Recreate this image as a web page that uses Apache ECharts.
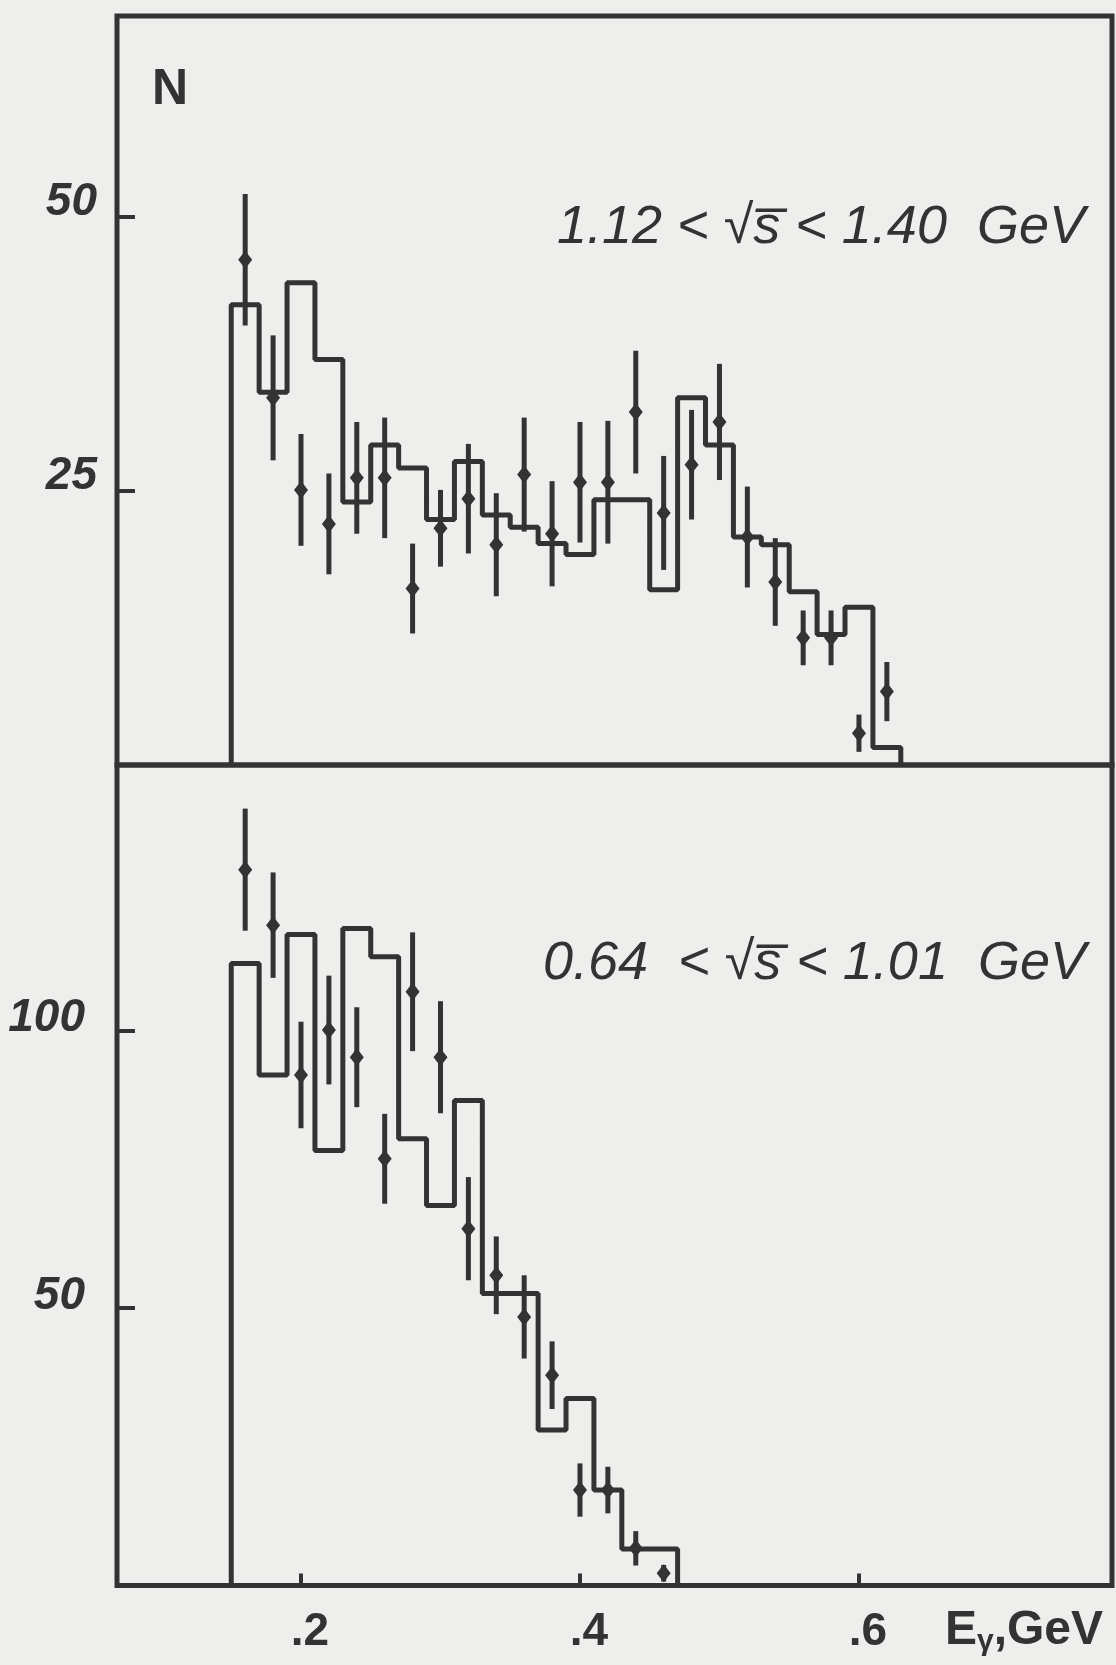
<!DOCTYPE html>
<html>
<head>
<meta charset="utf-8">
<script src="https://cdn.jsdelivr.net/npm/echarts@6/dist/echarts.min.js"></script>
<style>
html,body{margin:0;padding:0;background:#eeeeec;}
#chart{width:1116px;height:1665px;}
</style>
</head>
<body>
<div id="chart"></div>
<script>
// ---------- data ----------
const topEdges = [0.15,0.17,0.19,0.21,0.23,0.25,0.27,0.29,0.31,0.33,0.35,0.37,0.39,0.41,0.43,0.45,0.47,0.49,0.51,0.53,0.55,0.57,0.59,0.61,0.63];
const topHist  = [42,34,44,37,24,29.2,27.1,22.4,27.7,22.8,21.7,20.2,19.2,24.2,24.2,16,33.5,29.2,20.8,20.1,15.8,11.9,14.4,1.6];
const topPtX   = [0.16,0.18,0.20,0.22,0.24,0.26,0.28,0.30,0.32,0.34,0.36,0.38,0.40,0.42,0.44,0.46,0.48,0.50,0.52,0.54,0.56,0.58,0.60,0.62];
const topPtY   = [46.1,33.5,25.1,22.0,26.2,26.2,16.1,21.6,24.3,20.1,26.5,21.1,25.8,25.8,32.2,23.0,27.4,31.3,20.8,16.7,11.6,11.6,2.9,6.7];
const topPtErr = [6.0,5.7,5.1,4.6,5.1,5.5,4.1,3.5,5.0,4.7,5.2,4.8,5.5,5.6,5.6,5.2,5.0,5.3,4.6,4.0,2.5,2.5,1.7,2.7];

const botEdges = [0.15,0.17,0.19,0.21,0.23,0.25,0.27,0.29,0.31,0.33,0.35,0.37,0.39,0.41,0.43,0.45,0.47];
const botHist  = [112.1,92.0,117.3,78.4,118.4,113.3,80.5,68.5,87.4,52.6,52.6,28.0,33.7,17.2,6.6,6.6];
const botPtX   = [0.16,0.18,0.20,0.22,0.24,0.26,0.28,0.30,0.32,0.34,0.36,0.38,0.40,0.42,0.44,0.46];
const botPtY   = [129.0,119.0,92.0,100.1,95.2,76.9,107.0,95.2,64.3,55.9,48.4,37.9,17.2,17.2,6.7,2.2];
const botPtErr = [11.0,9.5,9.6,9.8,9.0,8.1,10.7,10.1,9.3,7.0,7.5,6.1,4.8,4.2,3.1,1.5];

const xTickValues = [0.2,0.4,0.6];
const xTickLabels = ['.2','.4','.6'];
const topYTicks = [25,50];
const botYTicks = [50,100];
const topLabel = '1.12 < \u221As\u0305 < 1.40  GeV';
const botLabel = '0.64  < \u221As\u0305 < 1.01  GeV';

// ---------- helpers ----------
const INK = '#333333';
function histData(edges, vals){
  const d = [[edges[0],0]];
  for (let i=0;i<vals.length;i++) d.push([edges[i], vals[i]]);
  d.push([edges[edges.length-1], 0]);
  return d;
}
function ptData(xs, ys, es){ return xs.map((x,i)=>[x, ys[i], es[i]]); }
function renderErr(params, api){
  const x = api.value(0), y = api.value(1), e = api.value(2);
  const c = api.coord([x,y]);
  const t = api.coord([x,y+e]);
  const b = api.coord([x,Math.max(0,y-e)]);
  return {type:'group', children:[
    {type:'line', shape:{x1:c[0],y1:t[1],x2:c[0],y2:b[1]}, style:{stroke:INK,lineWidth:5}},
    {type:'polygon', shape:{points:[[c[0],c[1]-9],[c[0]+7,c[1]],[c[0],c[1]+9],[c[0]-7,c[1]]]}, style:{fill:INK}}
  ]};
}

const xMin = 0.0681, xMax = 0.7814;
const topYMax = 68.34, botYMax = 147.86;

const chart = echarts.init(document.getElementById('chart'), null, {renderer:'canvas'});
const yLabelStyle = {fontSize:46, fontWeight:'bold', fontStyle:'italic', fontFamily:'Liberation Sans', color:INK};

chart.setOption({
  backgroundColor:'#eeeeec',
  animation:false,
  title:[
    {text:'N', left:147, top:60, textStyle:{fontSize:50, fontWeight:'bold', fontFamily:'Liberation Sans', color:INK}},
    {text:topLabel, left:552, top:196, textStyle:{fontSize:54, fontStyle:'italic', fontWeight:'normal', fontFamily:'Liberation Sans', color:INK}},
    {text:botLabel, left:538, top:932, textStyle:{fontSize:54, fontStyle:'italic', fontWeight:'normal', fontFamily:'Liberation Sans', color:INK}},
    {text:'{e|E}{g|\u03B3}{e|,GeV}', left:940, top:1600, textStyle:{rich:{
      e:{fontSize:48, fontWeight:'bold', fontFamily:'Liberation Sans', color:INK, lineHeight:52},
      g:{fontSize:30, fontWeight:'bold', fontFamily:'Liberation Sans', color:INK, lineHeight:22, verticalAlign:'bottom'}
    }}}
  ],
  grid:[
    {left:117, right:4, top:16, height:749, show:true, borderColor:INK, borderWidth:5, backgroundColor:'transparent'},
    {left:117, right:4, top:765, height:820.5, show:true, borderColor:INK, borderWidth:5, backgroundColor:'transparent'}
  ],
  xAxis:[
    {type:'value', gridIndex:0, min:xMin, max:xMax, axisLine:{show:false}, axisTick:{show:false}, axisLabel:{show:false}, splitLine:{show:false}},
    {type:'value', gridIndex:1, min:xMin, max:xMax, axisLine:{show:false}, splitLine:{show:false},
     axisTick:{show:true, inside:true, length:12, lineStyle:{color:INK,width:4}, customValues:xTickValues},
     axisLabel:{show:true, customValues:xTickValues, margin:24, padding:[0,0,0,18],
       formatter:(v)=>{const i=xTickValues.findIndex(t=>Math.abs(t-v)<1e-6); return i>=0?xTickLabels[i]:'';},
       fontSize:46, fontWeight:'bold', fontFamily:'Liberation Sans', color:INK}}
  ],
  yAxis:[
    {type:'value', gridIndex:0, min:0, max:topYMax, axisLine:{show:false}, splitLine:{show:false},
     axisTick:{show:true, inside:true, length:18, lineStyle:{color:INK,width:4}, customValues:topYTicks},
     axisLabel:Object.assign({customValues:topYTicks, margin:20, verticalAlign:'bottom', lineHeight:30}, yLabelStyle)},
    {type:'value', gridIndex:1, min:0, max:botYMax, axisLine:{show:false}, splitLine:{show:false},
     axisTick:{show:true, inside:true, length:18, lineStyle:{color:INK,width:4}, customValues:botYTicks},
     axisLabel:Object.assign({customValues:botYTicks, margin:32, verticalAlign:'bottom', lineHeight:24}, yLabelStyle)}
  ],
  series:[
    {type:'line', xAxisIndex:0, yAxisIndex:0, step:'end', data:histData(topEdges, topHist), showSymbol:false, lineStyle:{color:INK,width:5}},
    {type:'custom', xAxisIndex:0, yAxisIndex:0, data:ptData(topPtX, topPtY, topPtErr), renderItem:renderErr, encode:{x:0,y:1}},
    {type:'line', xAxisIndex:1, yAxisIndex:1, step:'end', data:histData(botEdges, botHist), showSymbol:false, lineStyle:{color:INK,width:5}},
    {type:'custom', xAxisIndex:1, yAxisIndex:1, data:ptData(botPtX, botPtY, botPtErr), renderItem:renderErr, encode:{x:0,y:1}}
  ]
});
</script>
</body>
</html>
